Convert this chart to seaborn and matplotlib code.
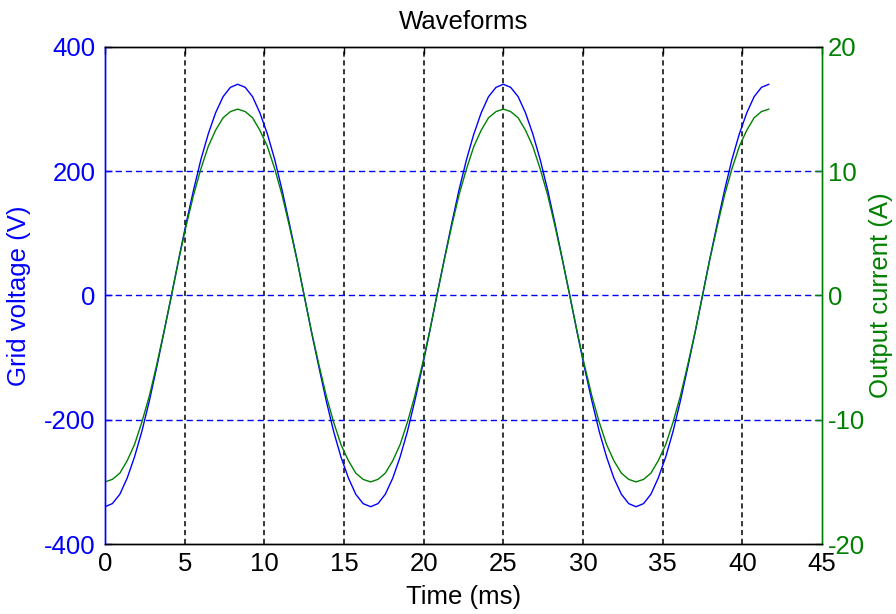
import pandas as pd
import matplotlib
matplotlib.use("Agg")
import matplotlib.pyplot as plt
import seaborn as sns

# Time samples (ms), read along the x axis
time_ms = [0.00, 0.46, 0.93, 1.39, 1.85, 2.31, 2.78, 3.24, 3.70, 4.17,
           4.63, 5.09, 5.56, 6.02, 6.48, 6.94, 7.41, 7.87, 8.33, 8.80,
           9.26, 9.72, 10.19, 10.65, 11.11, 11.57, 12.04, 12.50, 12.96, 13.43,
           13.89, 14.35, 14.81, 15.28, 15.74, 16.20, 16.67, 17.13, 17.59, 18.06,
           18.52, 18.98, 19.44, 19.91, 20.37, 20.83, 21.30, 21.76, 22.22, 22.69,
           23.15, 23.61, 24.07, 24.54, 25.00, 25.46, 25.93, 26.39, 26.85, 27.31,
           27.78, 28.24, 28.70, 29.17, 29.63, 30.09, 30.56, 31.02, 31.48, 31.94,
           32.41, 32.87, 33.33, 33.80, 34.26, 34.72, 35.19, 35.65, 36.11, 36.57,
           37.04, 37.50, 37.96, 38.43, 38.89, 39.35, 39.81, 40.28, 40.74, 41.20,
           41.67]

# Grid voltage (V)
voltage = [-340, -335, -320, -294, -260, -219, -170, -116, -59, 0,
           59, 116, 170, 219, 260, 294, 320, 335, 340,
           335, 320, 294, 260, 219, 170, 116, 59, 0,
           -59, -116, -170, -219, -260, -294, -320, -335, -340,
           -335, -320, -294, -260, -219, -170, -116, -59, 0,
           59, 116, 170, 219, 260, 294, 320, 335, 340,
           335, 320, 294, 260, 219, 170, 116, 59, 0,
           -59, -116, -170, -219, -260, -294, -320, -335, -340,
           -335, -320, -294, -260, -219, -170, -116, -59, 0,
           59, 116, 170, 219, 260, 294, 320, 335, 340]

# Output current (A)
current = [-15.0, -14.8, -14.3, -13.3, -12.0, -10.2, -8.1, -5.6, -2.9, 0.0,
           2.9, 5.6, 8.1, 10.2, 12.0, 13.3, 14.3, 14.8, 15.0,
           14.8, 14.3, 13.3, 12.0, 10.2, 8.1, 5.6, 2.9, 0.0,
           -2.9, -5.6, -8.1, -10.2, -12.0, -13.3, -14.3, -14.8, -15.0,
           -14.8, -14.3, -13.3, -12.0, -10.2, -8.1, -5.6, -2.9, 0.0,
           2.9, 5.6, 8.1, 10.2, 12.0, 13.3, 14.3, 14.8, 15.0,
           14.8, 14.3, 13.3, 12.0, 10.2, 8.1, 5.6, 2.9, 0.0,
           -2.9, -5.6, -8.1, -10.2, -12.0, -13.3, -14.3, -14.8, -15.0,
           -14.8, -14.3, -13.3, -12.0, -10.2, -8.1, -5.6, -2.9, 0.0,
           2.9, 5.6, 8.1, 10.2, 12.0, 13.3, 14.3, 14.8, 15.0]

x_ticks = [0, 5, 10, 15, 20, 25, 30, 35, 40, 45]
v_ticks = [-400, -200, 0, 200, 400]
i_ticks = [-20, -10, 0, 10, 20]

df = pd.DataFrame({"t": time_ms, "v": voltage, "i": current})

BLUE = "#0000ff"
GREEN = "#008000"

sns.set_style("white")
plt.rcParams["font.family"] = ["Liberation Sans", "DejaVu Sans"]
plt.rcParams["axes.unicode_minus"] = False
FS = 18.5

fig = plt.figure(figsize=(8.96, 6.14), dpi=100)
ax = fig.add_axes([0.1172, 0.114, 0.8002, 0.8095])
ax2 = ax.twinx()

sns.lineplot(data=df, x="t", y="v", ax=ax, color=BLUE, linewidth=1.0)
sns.lineplot(data=df, x="t", y="i", ax=ax2, color=GREEN, linewidth=1.0)

ax.set_xlim(0, 45)
ax.set_ylim(-400, 400)
ax2.set_ylim(-20, 20)
ax.set_xticks(x_ticks)
ax.set_yticks(v_ticks)
ax2.set_yticks(i_ticks)

# grid lines: black dashed verticals, blue dashed horizontals
for xv in x_ticks[1:-1]:
    ax.axvline(xv, color="black", linestyle=(0, (3.4, 2.4)), linewidth=1.1, zorder=0)
for yv in v_ticks[1:-1]:
    ax.axhline(yv, color=BLUE, linestyle=(0, (4.5, 2.8)), linewidth=1.0, zorder=0)

ax.tick_params(axis="x", direction="in", length=5, width=1, colors="black",
               labelsize=FS, pad=6, top=True)
ax.tick_params(axis="y", direction="in", length=5, width=1, colors=BLUE,
               labelsize=FS, pad=7)
ax2.tick_params(axis="y", direction="in", length=5, width=1, colors=GREEN,
                labelsize=FS, pad=4)

for a in (ax, ax2):
    for s in a.spines.values():
        s.set_linewidth(1.0)
    a.spines["top"].set_color("black")
    a.spines["bottom"].set_color("black")
    a.spines["left"].set_color(BLUE)
    a.spines["right"].set_color(GREEN)

ax.set_xlabel("Time (ms)", fontsize=FS, color="black", labelpad=6)
ax.set_ylabel("Grid voltage (V)", fontsize=FS, color=BLUE, labelpad=9)
ax2.set_ylabel("Output current (A)", fontsize=FS, color=GREEN, labelpad=3)
ax.set_title("Waveforms", fontsize=FS, color="black", pad=13)

fig.savefig("out.png", dpi=100)
